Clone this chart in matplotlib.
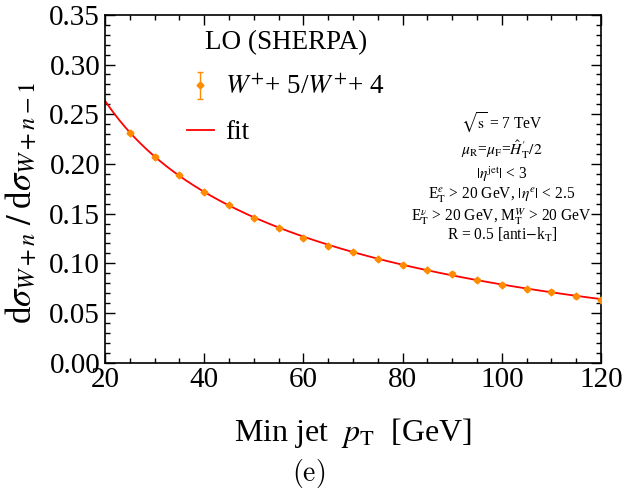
import numpy as np
import matplotlib
matplotlib.use("Agg")
import matplotlib.pyplot as plt
from matplotlib.ticker import MultipleLocator

# data
min_pt = [25, 30, 35, 40, 45, 50, 55, 60, 65, 70, 75, 80, 85, 90, 95, 100, 105, 110, 115, 120]
ratio = [0.2315, 0.2074, 0.1889, 0.1721, 0.1590, 0.1460, 0.1353, 0.1258, 0.1175, 0.1111,
         0.1044, 0.0983, 0.0936, 0.0896, 0.0832, 0.0785, 0.0742, 0.0715, 0.0668, 0.0634]
ratio_err = [0.0012, 0.0011, 0.0010, 0.0010, 0.0010, 0.0010, 0.0011, 0.0011, 0.0011, 0.0011,
             0.0011, 0.0011, 0.0011, 0.0014, 0.0012, 0.0012, 0.0012, 0.0014, 0.0013, 0.0013]

plt.rcParams['font.family'] = ['Liberation Serif', 'DejaVu Serif']
plt.rcParams['mathtext.fontset'] = 'stix'

orange = '#FF8C00'
fit_color = '#FF0000'

x = np.array(min_pt, dtype=float)
y = np.array(ratio)

# fit: y = a * x^-b * exp(-c x)  (linear least squares in log y)
A = np.column_stack([np.ones_like(x), np.log(x), x])
coef, *_ = np.linalg.lstsq(A, np.log(y), rcond=None)
xf = np.linspace(20, 120, 300)
yf = np.exp(coef[0] + coef[1] * np.log(xf) + coef[2] * xf)

fig = plt.figure(figsize=(6.25, 4.93), dpi=100)
ax = fig.add_axes([0.168, 0.2645, 0.7936, 0.7053])

pts = ax.errorbar(x, y, yerr=ratio_err, fmt='D', color=orange, markersize=3.5,
                  elinewidth=1, capsize=2, capthick=1, zorder=3)
fit_line, = ax.plot(xf, yf, color=fit_color, lw=1.3, zorder=2)

ax.set_xlim(20, 120)
ax.set_ylim(0, 0.35)
ax.xaxis.set_major_locator(MultipleLocator(20))
ax.xaxis.set_minor_locator(MultipleLocator(5))
ax.yaxis.set_major_locator(MultipleLocator(0.05))
ax.yaxis.set_minor_locator(MultipleLocator(0.01))
ax.yaxis.set_major_formatter(plt.FormatStrFormatter('%.2f'))
ax.tick_params(which='both', direction='in', top=True, right=True, labelsize=21, width=1)
ax.tick_params(which='major', length=7)
ax.tick_params(which='minor', length=3.5)
for s in ax.spines.values():
    s.set_linewidth(1.2)

ax.set_xlabel(r'Min jet  $p_\mathrm{T}$  [GeV]', fontsize=23, labelpad=16)
ax.set_ylabel(r'd$\sigma_{W+n}\;/\;$d$\sigma_{W+n-1}$', fontsize=25)
ax.yaxis.set_label_coords(-0.131, 0.46)
fig.text(0.494, 0.04, r'$(\mathrm{e})$', fontsize=20, ha='center', va='center',
         math_fontfamily='cm')

leg = ax.legend([pts, fit_line], [r'$W^{+}$+ 5/$W^{+}$+ 4', 'fit'],
                loc='upper left', bbox_to_anchor=(0.165, 0.955), frameon=False,
                fontsize=19.5, title='LO (SHERPA)', title_fontsize=19.5,
                handlelength=1.0, handletextpad=0.4, labelspacing=0.72,
                borderpad=0, borderaxespad=0)

lines = [r'$\sqrt{\mathrm{s}}$ = 7 TeV',
         r'$\mu_\mathrm{R}$=$\mu_\mathrm{F}$=$\hat{H}^{\prime}_\mathrm{T}/2$',
         r'$|\eta^\mathrm{jet}|$ < 3',
         r'E$_\mathrm{T}^{e}$ > 20 GeV, $|\eta^{e}|$ < 2.5',
         r'E$_\mathrm{T}^{\nu}$ > 20 GeV, M$_\mathrm{T}^{W}$ > 20 GeV',
         r'R = 0.5 [anti$-$k$_\mathrm{T}$]']
ypos = [0.688, 0.612, 0.543, 0.482, 0.419, 0.367]
for t, yy in zip(lines, ypos):
    ax.text(0.80, yy, t, transform=ax.transAxes, ha='center', va='center', fontsize=11.2)

fig.savefig('out.png', dpi=100)
